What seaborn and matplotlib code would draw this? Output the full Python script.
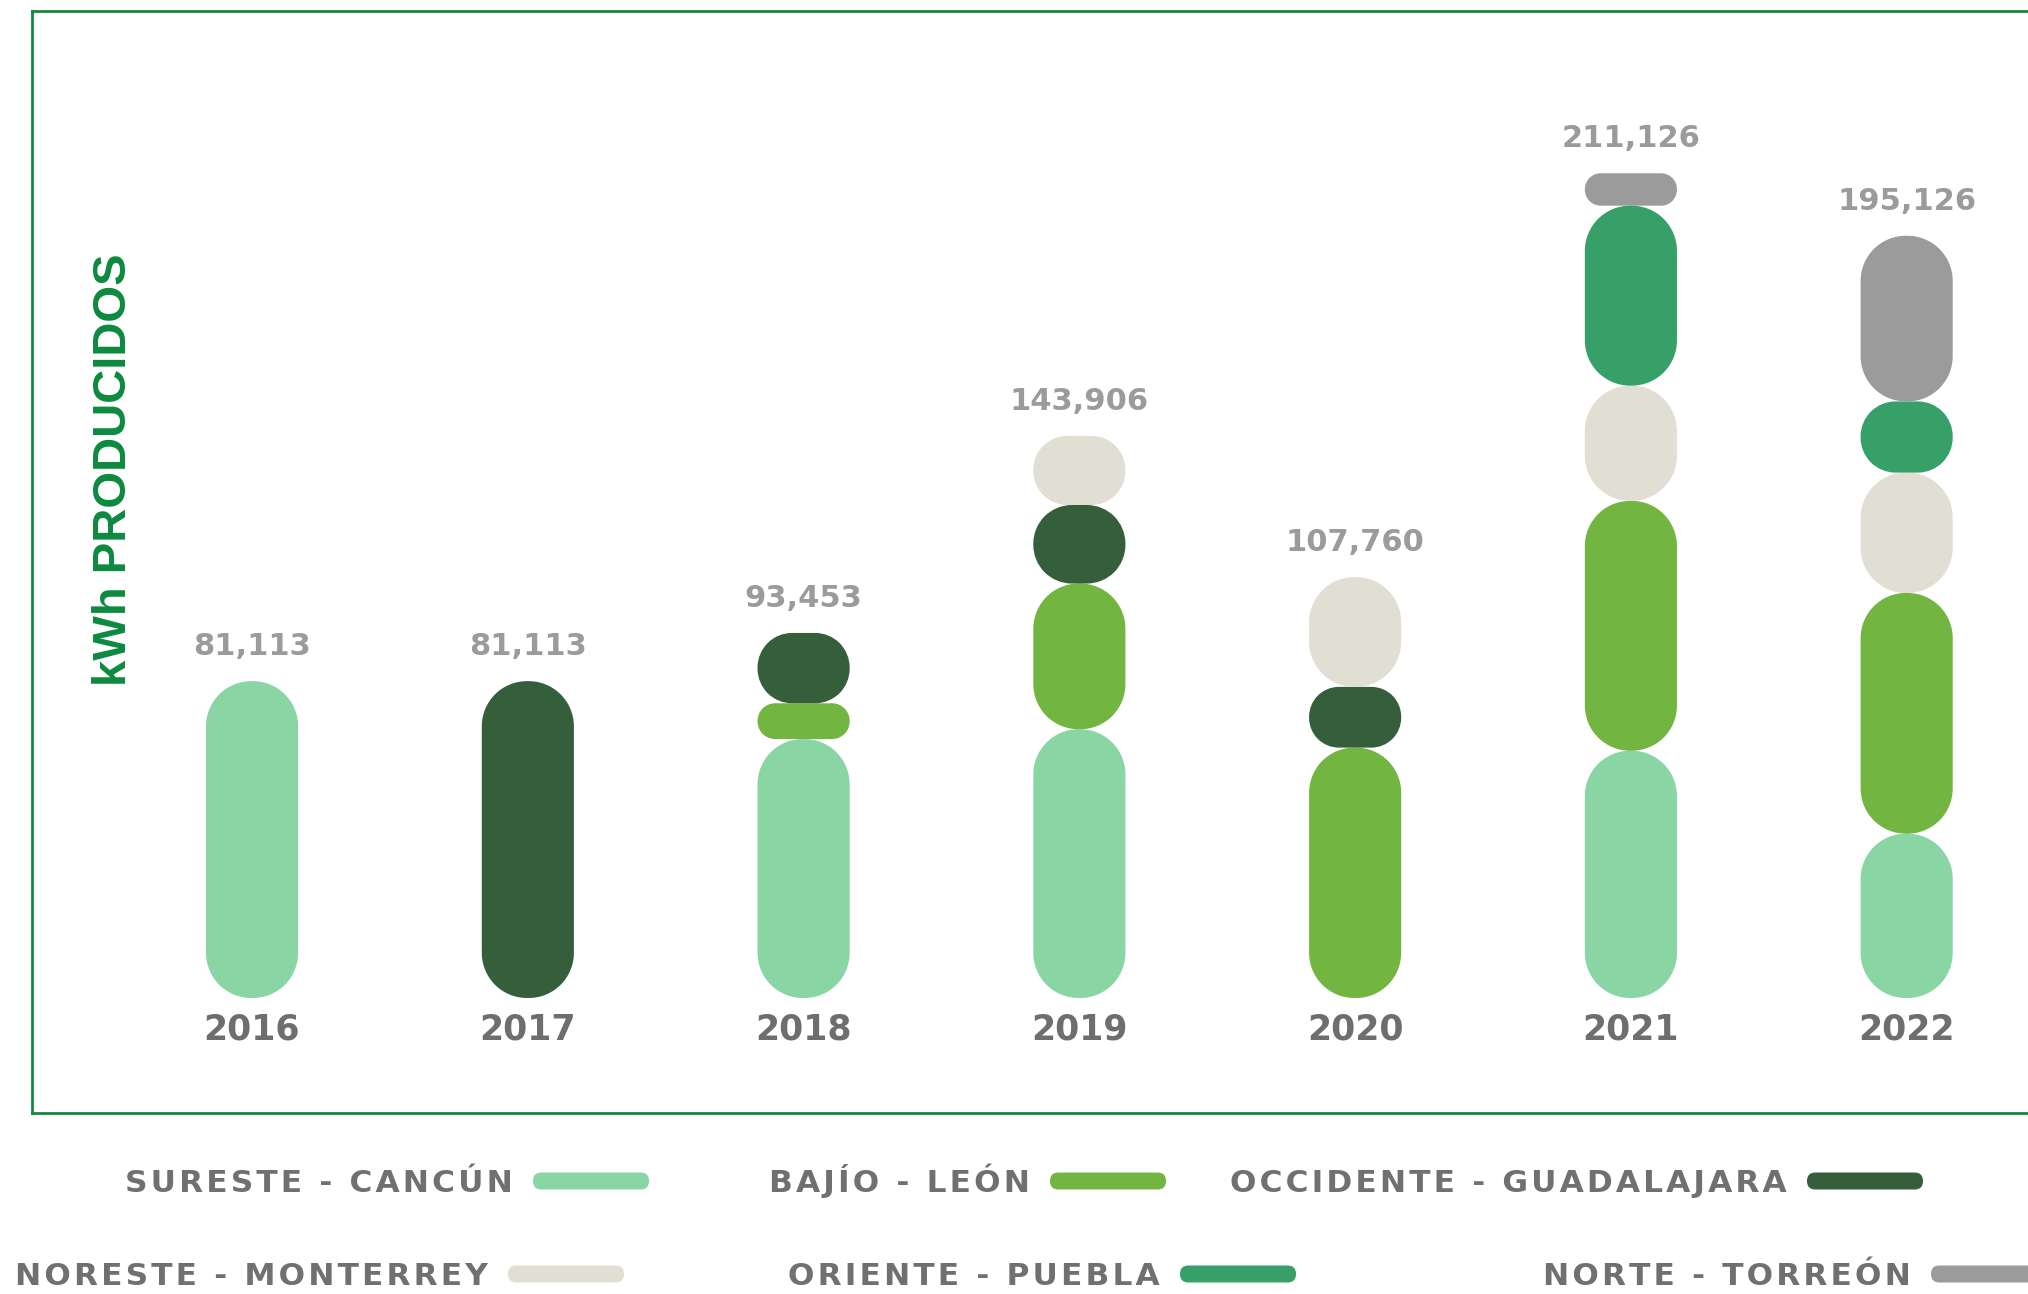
import numpy as np
import pandas as pd
import matplotlib
matplotlib.use('Agg')
import matplotlib.pyplot as plt
import seaborn as sns
from matplotlib.patches import FancyBboxPatch, PathPatch
from matplotlib.path import Path

# data (kWh per region and year)
years = ['2016', '2017', '2018', '2019', '2020', '2021', '2022']
regions = ['SURESTE - CANCÚN', 'BAJÍO - LEÓN', 'OCCIDENTE - GUADALAJARA',
           'NORESTE - MONTERREY', 'ORIENTE - PUEBLA', 'NORTE - TORREÓN']
sureste = [81113, 0, 66300, 68800, 0, 63300, 42070]
bajio = [0, 0, 9150, 37300, 64100, 63960, 61620]
occidente = [0, 81113, 18003, 20106, 15550, 0, 0]
noreste = [0, 0, 0, 17700, 28110, 29500, 30810]
oriente = [0, 0, 0, 0, 0, 46070, 18220]
norte = [0, 0, 0, 0, 0, 8296, 42406]
totals = [81113, 81113, 93453, 143906, 107760, 211126, 195126]

colors = ['#89d5a4', '#72b541', '#355e3b', '#e1ded4', '#36a068', '#9b9b9b']
series = [sureste, bajio, occidente, noreste, oriente, norte]

sns.set_style('white')
plt.rcParams['font.family'] = ['DejaVu Sans']


def pill(x, y, w, h, rx, ry):
    # rounded rectangle with circular (in pixels) corners
    verts, codes = [], []
    corners = [(x + w - rx, y + ry, 270), (x + w - rx, y + h - ry, 0),
               (x + rx, y + h - ry, 90), (x + rx, y + ry, 180)]
    for cx, cy, a in corners:
        arc = Path.arc(a, a + 90)
        v = arc.vertices * [rx, ry] + [cx, cy]
        c = list(arc.codes)
        c[0] = Path.MOVETO if not verts else Path.LINETO
        verts.extend(v)
        codes.extend(c)
    verts.append(verts[0])
    codes.append(Path.CLOSEPOLY)
    return Path(verts, codes)


W, H = 2028, 1294
fig = plt.figure(figsize=(W / 100, H / 100), dpi=100)
ax = fig.add_axes([32 / W, 1 - 1113 / H, 1 - 32 / W, (1113 - 11) / H])

# stacked bars through seaborn, remembered with their bottoms
bottoms = np.zeros(len(years))
bars = []
for vals, col in zip(series, colors):
    n0 = len(ax.patches)
    sns.barplot(x=years, y=vals, order=years, color=col, saturation=1,
                width=0.334, errorbar=None, ax=ax)
    for i, p in enumerate(ax.patches[n0:]):
        bars.append((p, bottoms[i], col))
    bottoms += np.array(vals)

ax.set_xlim(-0.798, 6.44)
ax.set_ylim(-29440, 252670)

# swap the rectangles for rounded pills
sx = ax.bbox.width / (6.44 + 0.798)
sy = ax.bbox.height / (252670 + 29440)
for p, b, col in bars:
    x, w, h = p.get_x(), p.get_width(), p.get_height()
    p.remove()
    if h <= 0:
        continue
    rad = 0.49 * min(w * sx, h * sy)
    ax.add_patch(PathPatch(pill(x, b, w, h, rad / sx, rad / sy), fc=col, ec='none'))

for i, t in enumerate(totals):
    ax.annotate(f'{t:,}', (i, t), xytext=(0, 25), textcoords='offset points',
                ha='center', va='center', fontsize=22, fontweight='bold', color='#9b9b9b')
    ax.annotate(years[i], (i, 0), xytext=(0, -23), textcoords='offset points',
                ha='center', va='center', fontsize=25, fontweight='bold', color='#6e6e6e')

ax.set_xticks([])
ax.set_yticks([])
ax.set_xlabel('')
ax.set_ylabel('')
for s in ['left', 'top', 'bottom']:
    ax.spines[s].set_color('#13893f')
    ax.spines[s].set_linewidth(2)
ax.spines['right'].set_visible(False)

fig.text(114 / W, 1 - 470 / H, 'kWh PRODUCIDOS', rotation=90, ha='center', va='center',
         fontsize=34, fontweight='bold', color='#0c8a3e', family=['Liberation Sans', 'DejaVu Sans'])

# legend: swatch left edge and row centre in pixels
leg_pos = [(533, 1181), (1050, 1181), (1807, 1181),
           (508, 1274), (1180, 1274), (1931, 1274)]
for name, col, (x0, yc) in zip(regions, colors, leg_pos):
    spaced = '\u200a'.join(name)
    fig.text((x0 - 20) / W, 1 - (yc + 11) / H, spaced, ha='right', va='baseline',
             fontsize=22.5, fontweight='bold', color='#707070')
    fig.add_artist(FancyBboxPatch((x0 / W, 1 - (yc + 8.5) / H), 116 / W, 17 / H,
                                  boxstyle=f'round,pad=0,rounding_size={8.3 / W}',
                                  mutation_aspect=W / H, fc=col, ec='none',
                                  transform=fig.transFigure))

fig.savefig('out.png', dpi=100)
